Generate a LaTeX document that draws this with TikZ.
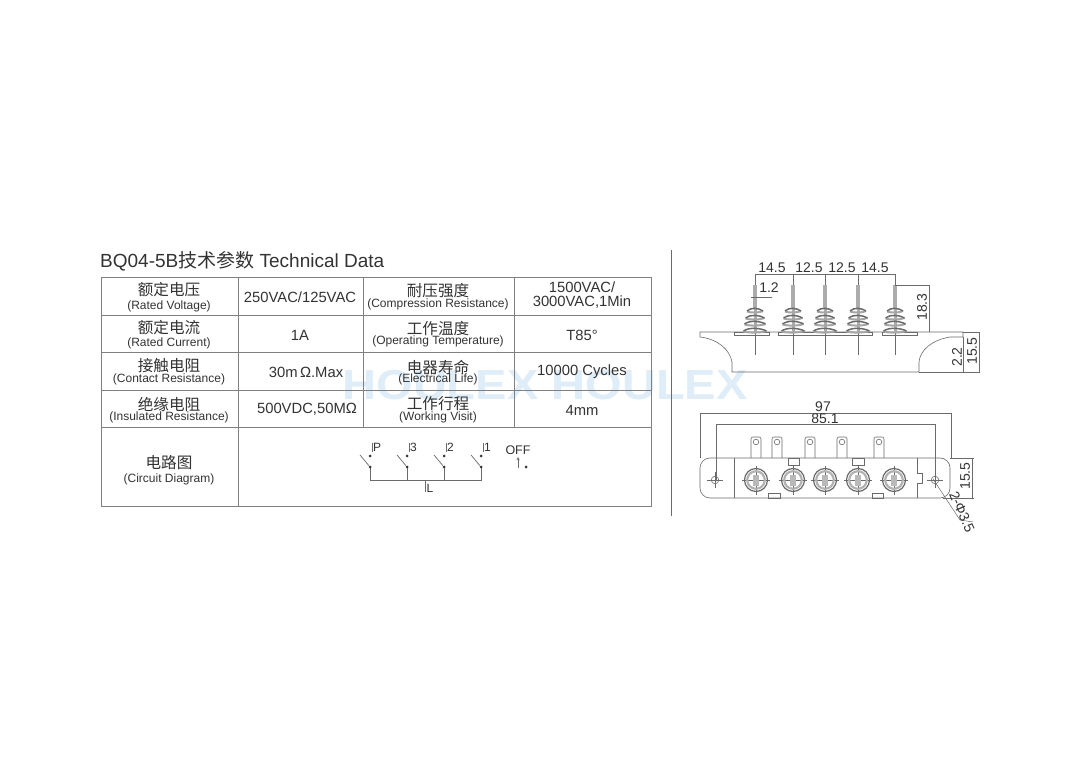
\documentclass[tikz,border=0pt]{standalone}
\usepackage{fontspec}
\setmainfont{Liberation Sans}
\newfontfamily\cjk{Noto Sans CJK SC}
\definecolor{tline}{gray}{0.5}
\definecolor{dline}{gray}{0.42}
\definecolor{wm}{RGB}{222,237,248}
\definecolor{ink}{gray}{0.2}
\tikzset{
 zh/.style={font=\cjk\fontsize{15.6}{16}\selectfont,text=ink,inner sep=0,anchor=center},
 en/.style={font=\fontsize{12}{12}\selectfont,text=ink,inner sep=0,anchor=center},
 val/.style={font=\fontsize{14.8}{15}\selectfont,text=ink,inner sep=0,anchor=center,align=center},
 dimt/.style={font=\fontsize{14}{14}\selectfont,text=ink,inner sep=0,anchor=center},
 lab/.style={font=\fontsize{12}{12}\selectfont,text=ink,inner sep=0,anchor=center},
 grid/.style={draw=tline,line width=1pt},
 part/.style={draw=dline,line width=0.6pt},
 dimline/.style={draw=dline,line width=0.5pt},
 dot/.style={circle,fill=ink,inner sep=0,minimum size=3pt},
}
\begin{document}
\begin{tikzpicture}[x=1pt,y=-1pt]
\useasboundingbox[fill=white] (0,0) rectangle (1088,767);
% watermark
\node[inner sep=0,text=wm,xscale=1.12,font=\bfseries\fontsize{42}{42}\selectfont] (wmark) at (545,385) {HOULEX HOULEX};
% title
\node[anchor=west,inner sep=0,text=ink,font=\fontsize{19}{19}\selectfont] (title) at (100,261) {BQ04-5B{\cjk 技术参数} Technical Data};
% table
\draw[grid] (101,278) rectangle (651,506);
\foreach \y in {316,353,391,428} \draw[grid] (101,\y) -- (651,\y);
\draw[grid] (238,278) -- (238,506);
\draw[grid] (363,278) -- (363,428);
\draw[grid] (514,278) -- (514,428);
% col 1
\node[zh] (a1) at (169,290) {额定电压};
\node[en] (a1e) at (169,306) {(Rated Voltage)};
\node[zh] (a2) at (169,328) {额定电流};
\node[en] (a2e) at (169,343) {(Rated Current)};
\node[zh] (a3) at (169,366) {接触电阻};
\node[en] (a3e) at (169,379) {(Contact Resistance)};
\node[zh] (a4) at (169,404) {绝缘电阻};
\node[en] (a4e) at (169,417) {(Insulated Resistance)};
\node[zh] (a5) at (169,463) {电路图};
\node[en] (a5e) at (169,479) {(Circuit Diagram)};
% col 2
\node[val] (b1) at (300,297) {250VAC/125VAC};
\node[val] (b2) at (300,335) {1A};
\node[val] (b3) at (306,372) {30m$\,$Ω.Max};
\node[val] (b4) at (307,409) {500VDC,50MΩ};
% col 3
\node[zh] (c1) at (438,291) {耐压强度};
\node[en] (c1e) at (438,304) {(Compression Resistance)};
\node[zh] (c2) at (438,329) {工作温度};
\node[en] (c2e) at (438,341) {(Operating Temperature)};
\node[zh] (c3) at (438,367) {电器寿命};
\node[en] (c3e) at (438,379) {(Electrical Life)};
\node[zh] (c4) at (438,404) {工作行程};
\node[en] (c4e) at (438,417) {(Working Visit)};
% col 4
\node[val] (d1) at (582,295) {1500VAC/\\[-1.5pt]3000VAC,1Min};
\node[val] (d2) at (582,335) {T85°};
\node[val] (d3) at (582,372) {10000 Cycles};
\node[val] (d4) at (582,410) {4mm};
% circuit
\draw[dline,line width=0.7pt] (370,467) -- (370,480) -- (481,480) -- (481,467);
\draw[dline,line width=0.7pt] (407,467) -- (407,480) (444,467) -- (444,480);
\draw[dline,line width=0.5pt] (425,480) -- (425,492);
\foreach \x/\t/\n in {370/P/p,407/3/c,444/2/b,481/1/a}{
 \node[dot] (top\n) at (\x,456) {};
 \node[dot] (bot\n) at (\x,467) {};
 \draw[dline,line width=0.5pt] (\x+2,443) -- (\x+2,452);
 \draw[dline,line width=0.7pt] (bot\n) -- ++(-10,-12);
 \node[lab,anchor=west] (t\n) at (\x+3,447) {\t};
}
\node[lab] (lL2) at (430,488) {L};
\node[lab,font=\fontsize{12.5}{12.5}\selectfont] (off) at (518,450) {OFF};
\node[dot] (offd) at (526,467) {};
\draw[dline,line width=0.5pt,->,>=stealth] (518,468) -- (518,457);
% divider
\draw[dline,line width=0.6pt] (671,250) -- (671,516);
% side view
\draw[part] (700,332) -- (963,332) -- (963,337) -- (950,337) .. controls (932,340) and (920,350) .. (919,362) -- (919,372) -- (732,372) -- (732,362) .. controls (730,350) and (718,339) .. (700,337) -- cycle;
\foreach \a/\b in {734/769,778/872,882/917} \draw[part] (\a,332) rectangle (\b,335);
\foreach \x in {755,793,825,858,895}{
 \draw[dimline] (\x,274) -- (\x,355);
 \fill[gray!65] (\x-2.2,285) rectangle (\x+2.2,308);
 \fill[gray!65] (\x-1.5,308) rectangle (\x+1.5,332);
 \foreach \s/\w in {310/8,317/9.5,323/10.5,330/11.5}{
  \draw[gray!70,line width=2pt] (\x+\w,\s+1) .. controls (\x+\w/2,\s+3) and (\x-\w/2,\s+3) .. (\x-\w,\s+1.5);
  \draw[dline,line width=1.5pt] (\x-\w,\s+1) .. controls (\x-\w/2,\s-3) and (\x+\w/2,\s-2) .. (\x+\w,\s+1);
 }
}
\draw[dimline] (755,274) -- (895,274);
\node[dimt] (d145a) at (772,268) {14.5};
\node[dimt] (d125a) at (809,268) {12.5};
\node[dimt] (d125b) at (842,268) {12.5};
\node[dimt] (d145b) at (875,268) {14.5};
\node[dimt] (d12) at (769,288) {1.2};
\draw[dimline] (751,297) -- (772,297);
\draw[dimline] (895,285) -- (929,285) -- (929,332);
\node[dimt,rotate=90] (d183) at (922,307) {18.3};
\draw[dimline] (963,332) -- (979,332) -- (979,372) -- (919,372);
\draw[dimline] (963,337) -- (963,372);
\node[dimt,rotate=90] (d22) at (957,357) {2.2};
\node[dimt,rotate=90] (d155) at (972,351) {15.5};
% top view
\draw[part,rounded corners=10pt] (720,458) -- (950,458) -- (950,498) -- (700,498) -- (700,458) -- cycle;
\draw[part] (734,458) -- (734,498);
\draw[part] (917,458) -- (917,473) -- (922,473) -- (922,483) -- (917,483) -- (917,498);
\foreach \x in {756,777,810,842,879}{
 \draw[part,rounded corners=2pt] (\x-5,458) -- (\x-5,437) -- (\x+5,437) -- (\x+5,458);
 \draw[part] (\x,442) circle (2.8);
}
\draw[part] (788,458) rectangle (799,465);
\draw[part] (852,458) rectangle (864,465);
\draw[part] (768,498) rectangle (780,493);
\draw[part] (872,498) rectangle (883,493);
\foreach \x in {756,793,825,858,894}{
 \draw[dimline] (\x-14,480) -- (\x+14,480) (\x,466) -- (\x,495);
 \draw[dline,line width=1.2pt] (\x,480) circle (11.5);
 \draw[gray!60,line width=2.2pt] (\x,480) circle (8.8);
 \fill[gray!55] (\x-3,475) rectangle (\x+3,486);
}
\foreach \x in {715,935}{
 \draw[part] (\x,480) circle (3.8);
 \draw[dimline] (\x-8,480) -- (\x+8,480) (\x,472) -- (\x,488);
}
\draw[dimline] (700,458) -- (700,413) -- (951,413) -- (951,458);
\draw[dimline] (716,480) -- (716,424) -- (935,424) -- (935,480);
\node[dimt] (d97) at (823,407) {97};
\node[dimt] (d851) at (825,419) {85.1};
\draw[dimline] (950,458) -- (974,458) (943,498) -- (974,498) (972,458) -- (972,498);
\node[dimt,rotate=90] (d155b) at (965,476) {15.5};
\draw[dimline] (933,479) -- (960,520) -- (973,522);
\node[dimt,rotate=-66] (hole) at (962,512) {2-Φ3.5};
\end{tikzpicture}
\end{document}
